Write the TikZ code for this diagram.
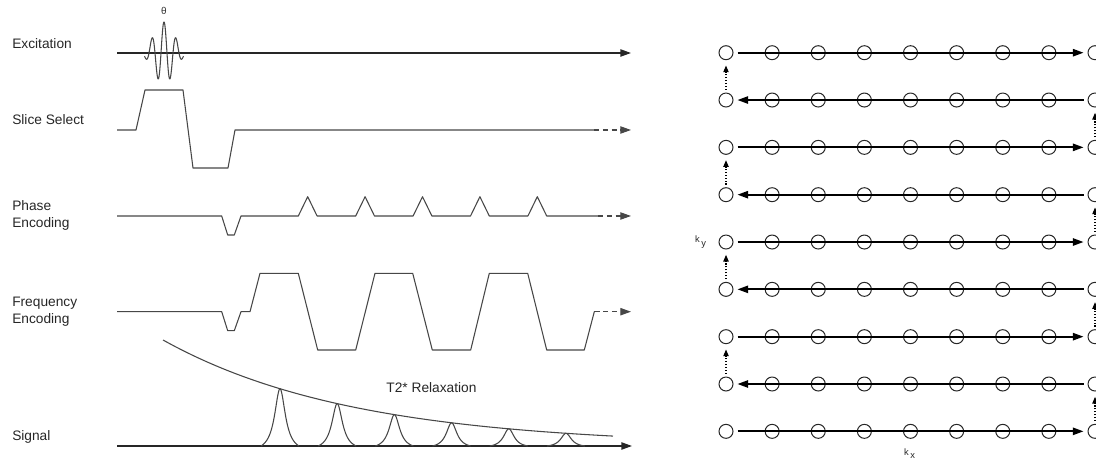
\documentclass[tikz,border=0pt]{standalone}
\usepackage{fontspec}
\setmainfont{Liberation Sans}
\usetikzlibrary{arrows.meta}
\begin{document}
\begin{tikzpicture}[x=0.75pt,y=-0.75pt,
  lbl/.style={anchor=west, inner sep=0pt, font=\fontsize{10.3}{12.8}\selectfont, text=black!85, align=left},
  txt/.style={inner sep=0pt, font=\fontsize{10.3}{12.8}\selectfont, text=black!85},
  klbl/.style={inner sep=0pt, font=\fontsize{7}{8}\selectfont, text=black!85},
  wave/.style={draw=black!72, line width=0.8pt, line join=round},
  axisline/.style={draw=black!85, line width=1pt},
  tip/.style={-{Triangle[length=8pt,width=5.5pt]}},
  tail/.style={dash pattern=on 4pt off 2.6pt},
  kpt/.style={circle, draw=black!85, line width=0.75pt, minimum size=10.5pt, inner sep=0pt},
  kline/.style={draw=black, line width=1.3pt, shorten <=3pt, shorten >=3pt,
                -{Triangle[length=8pt,width=5.5pt]}},
  kstep/.style={draw=black, line width=0.8pt, dash pattern=on 0.8pt off 1.4pt,
                shorten <=2pt, shorten >=4pt, -{Triangle[length=5pt,width=4pt]}},
]
\useasboundingbox (0,0) rectangle (1096,463);

% ---------------- pulse sequence: channel labels ----------------
\node[lbl] (exc) at (12,44)    {Excitation};
\node[lbl] (ss)  at (12,120)   {Slice Select};
\node[lbl] (pe)  at (12,215.5) {Phase\\Encoding};
\node[lbl] (fe)  at (12,311.5) {Frequency\\Encoding};
\node[lbl] (sig) at (12,437)   {Signal};

% ---------------- excitation: RF pulse ----------------
\coordinate (excA) at (117,53);
\coordinate (excB) at (631,53);
\draw[axisline, tip] (excA) -- (excB);
\draw[wave] plot[domain=-19.5:19.5, samples=180, smooth]
  ({164+\x}, {53-31*cos(30*\x)*exp(-(\x/14)^2)});
\node[inner sep=0pt, font=\fontsize{7.5}{8}\selectfont, text=black!80] (theta) at (164,11) {θ};

% ---------------- slice select gradient ----------------
\coordinate (ssEnd) at (594,130);
\coordinate (ssTip) at (631,130);
\draw[wave] (117,130) -- (136,130) -- (145,90) -- (183,90) -- (193,168)
  -- (228,168) -- (235,130) -- (ssEnd);
\draw[wave, tail, tip] (ssEnd) -- (ssTip);

% ---------------- phase encoding gradient ----------------
\coordinate (peEnd) at (598,216);
\coordinate (peTip) at (631,216);
\draw[wave] (117,216) -- (221.7,216) -- (227.7,235) -- (234.3,235) -- (241,216)
  \foreach \p in {307.7,365.1,422.5,479.9,537.3} { -- (\p-9.4,216) -- (\p,196.7) -- (\p+9.4,216) }
  -- (peEnd);
\draw[wave, tail, tip] (peEnd) -- (peTip);

% ---------------- frequency encoding gradient ----------------
\coordinate (feEnd) at (594.3,311.7);
\coordinate (feTip) at (631,311.7);
\draw[wave] (117,311.7) -- (221.7,311.7) -- (227.7,330.7) -- (234.3,330.7) -- (241,311.7)
  -- (250,311.7) -- (260,273.3) -- (298.3,273.3) -- (317.7,350) -- (355.7,350)
  -- (375,273.3) -- (412.7,273.3) -- (432.3,350) -- (470.7,350)
  -- (489.3,273.3) -- (527.7,273.3) -- (546.7,350) -- (584.3,350) -- (feEnd);
\draw[wave, tail, tip] (feEnd) -- (feTip);

% ---------------- signal: echoes under the T2* envelope ----------------
\coordinate (sigA) at (117,446);
\coordinate (sigB) at (632,446);
\draw[axisline, tip] (sigA) -- (sigB);
\draw[wave] plot[domain=163:613, samples=80, smooth]
  (\x, {446-106*exp(-(\x-163)/190)});
\foreach \p in {280,337.2,394.4,451.6,508.8,566} {
  \pgfmathsetmacro{\h}{106*exp(-(\p-163)/190)}
  \draw[wave] plot[domain=-19:19, samples=77, smooth]
    ({\p+\x}, {446-\h*(1/(1+(\x/6.5)^2)-0.1048)/0.8952});
}
\node[txt] (t2) at (431.5,387.5) {T2* Relaxation};

% ---------------- k-space trajectory ----------------
\foreach \r in {1,...,9}
  \foreach \c in {1,...,9}
    \node[kpt] (k\r-\c) at ({726+46.125*(\c-1)}, {52.7+47.33*(\r-1)}) {};

% read-out lines, alternating direction
\foreach \r in {1,3,5,7,9} \draw[kline] (k\r-1) -- (k\r-9);
\foreach \r in {2,4,6,8}   \draw[kline] (k\r-9) -- (k\r-1);

% phase-encoding steps between lines
\foreach \r/\q in {2/1,4/3,6/5,8/7} \draw[kstep] (k\r-1) -- (k\q-1);
\foreach \r/\q in {3/2,5/4,7/6,9/8} \draw[kstep] (k\r-9) -- (k\q-9);

\node[klbl] (ky) at (700.5,242) {k\hspace{1.2pt}\raisebox{-2.4pt}{y}};
\node[klbl] (kx) at (909.5,454) {k\hspace{1.2pt}\raisebox{-2.4pt}{x}};
\end{tikzpicture}
\end{document}
